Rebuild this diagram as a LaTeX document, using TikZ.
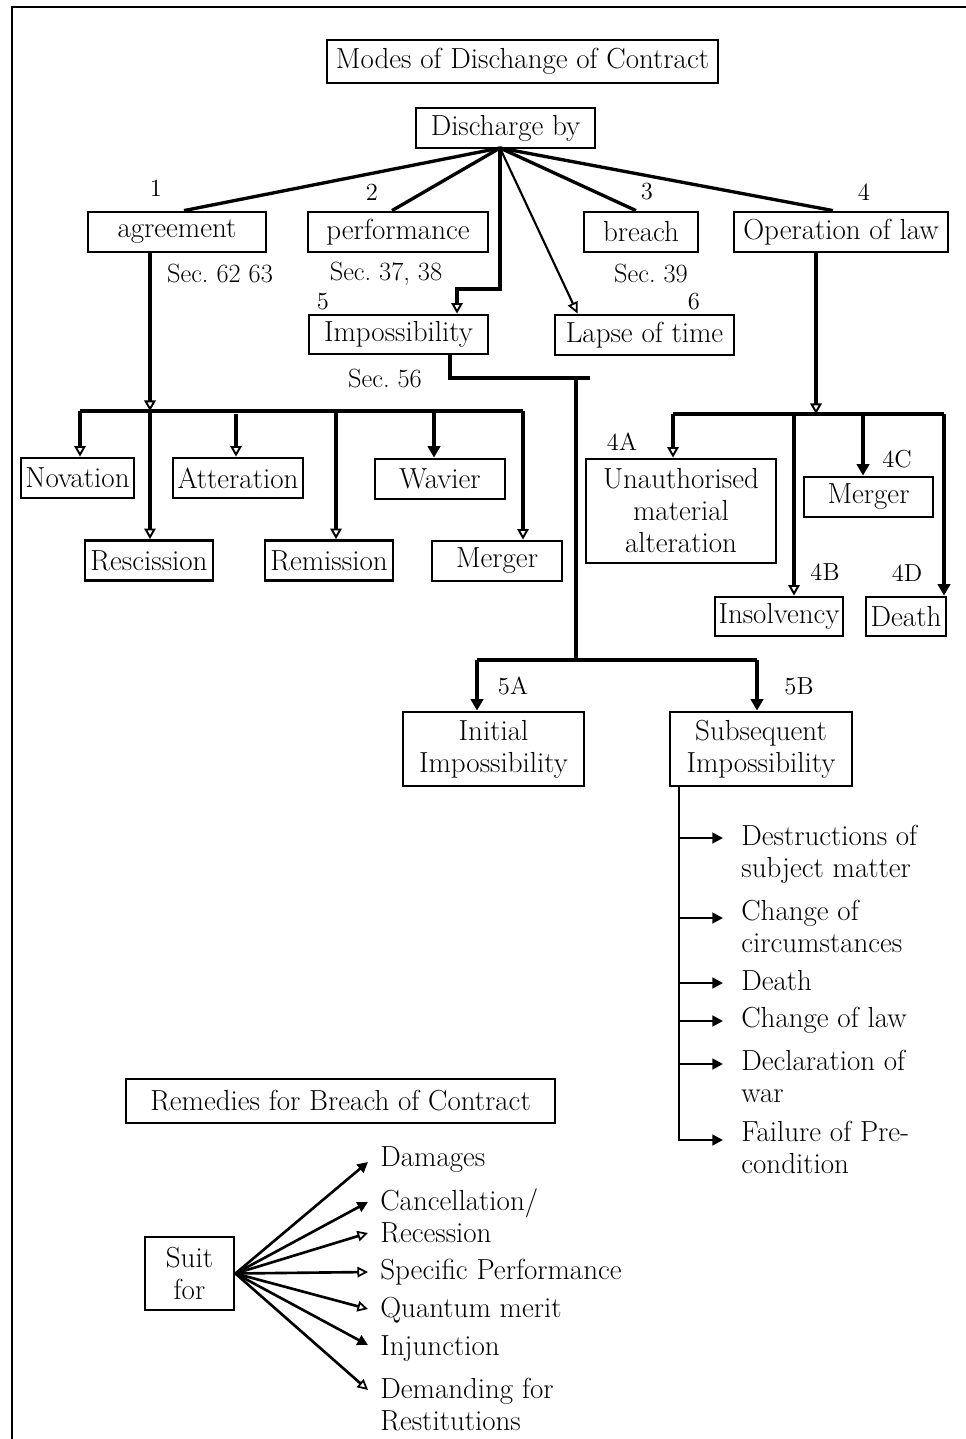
\documentclass[tikz,border=0pt]{standalone}
\usetikzlibrary{arrows.meta,calc}
\frenchspacing
\begin{document}
\begin{tikzpicture}[x=0.02cm,y=-0.02cm,
  every node/.style={font=\fontsize{16.5}{18.2}\selectfont, inner sep=0pt},
  box/.style={draw, line width=1.6pt, align=center},
  bw/.style={minimum width=#1*0.02cm},
  bh/.style={minimum height=#1*0.02cm},
  sec/.style={font=\fontsize{15}{17}\selectfont},
  num/.style={font=\fontsize{14}{16}\selectfont},
  item/.style={anchor=west, align=left},
  wire/.style={line width=1.9pt},
  oarr/.style={wire, -{Triangle[open, length=6pt, width=6.5pt, line width=1.1pt]}},
  farr/.style={wire, -{Triangle[length=6.5pt, width=7pt]}},
  thin oarr/.style={line width=1.2pt, -{Triangle[open, length=6.5pt, width=6pt, line width=1pt]}},
  thin farr/.style={line width=1.5pt, -{Triangle[length=6pt, width=6pt]}},
  thin oarr2/.style={line width=1.5pt, -{Triangle[open, length=6pt, width=6pt, line width=1pt]}},
]
\useasboundingbox (0,0) rectangle (966,1439);
% open page frame
\draw[line width=1.2pt] (966,7) -- (12,7) -- (12,1439);

% ---------- Modes of discharge ----------
\node[box, bw=391, bh=43] (title) at (522.5,61.5) {Modes of Dischange of Contract};
\node[box, bw=179, bh=40] (dis) at (505.5,128) {Discharge by};

\node[box, bw=178, bh=40] (agr) at (177,232) {agreement};
\node[box, bw=180, bh=40] (perf) at (398,232) {performance};
\node[box, bw=114, bh=40] (brc) at (641,232) {breach};
\node[box, bw=214, bh=40] (opl) at (841,232) {Operation of law};
\node[box, bw=179, bh=39] (imp) at (398.5,334.5) {Impossibility};
\node[box, bw=179, bh=40] (lapse) at (644.5,335) {Lapse of time};

\node[num] (n1) at (156,188) {1};
\node[num] (n2) at (372,192) {2};
\node[num] (n3) at (647,192) {3};
\node[num] (n4) at (864,192) {4};
\node[num] (n5) at (323,302) {5};
\node[num] (n6) at (694,302) {6};

\node[sec] (s1) at (220,274) {Sec. 62 63};
\node[sec] (s2) at (386,274) {Sec. 37, 38};
\node[sec] (s3) at (651,274) {Sec. 39};
\node[sec] (s5) at (385,378) {Sec. 56};

\coordinate (apex) at (500,148);
\draw[wire] (apex) -- ($(agr.north)+(7,0)$);
\draw[wire] (apex) -- ($(perf.north)+(-6,0)$);
\draw[wire] (apex) -- ($(brc.north)+(-5,0)$);
\draw[wire] (apex) -- ($(opl.north)+(-8,0)$);
\coordinate (elb) at (457,289);
\draw[oarr] (apex) |- (elb) -- (elb |- imp.north);
\draw[thin oarr] (apex) -- ($(lapse.north west)+(24,0)$);

% ---------- by agreement ----------
\node[box, bw=113, bh=40] (nov) at (77.5,478) {Novation};
\node[box, bw=130, bh=40] (att) at (238,478) {Atteration};
\node[box, bw=130, bh=40] (wav) at (440,479) {Wavier};
\node[box, bw=128, bh=40] (res) at (149,560.5) {Rescission};
\node[box, bw=128, bh=40] (rem) at (329,560.5) {Remission};
\node[box, bw=130, bh=40] (mrg) at (497,561) {Merger};

\coordinate (busA) at (150,411);
\coordinate (busL) at (80,411);
\coordinate (busR) at (523,411);
\draw[oarr] (busA |- agr.south) -- (busA);
\draw[wire] (busL) -- (busR);
\draw[oarr] (busL) -- (busL |- nov.north);
\draw[oarr] (busA) -- (busA |- res.north);
\coordinate (dAtt) at (236,414);
\draw[oarr] (dAtt) -- (dAtt |- att.north);
\coordinate (dRem) at (336,413);
\draw[oarr] (dRem) -- (dRem |- rem.north);
\coordinate (dWav) at (434,411);
\draw[farr] (dWav) -- (dWav |- wav.north);
\draw[oarr] (busR) -- (busR |- mrg.north);

% ---------- by operation of law ----------
\node[box, bw=190, bh=104] (una) at (681,511) {Unauthorised\\material\\alteration};
\node[box, bw=129, bh=40] (mrg4) at (868.5,497) {Merger};
\node[box, bw=128, bh=39] (ins) at (779,616.5) {Insolvency};
\node[box, bw=80, bh=39] (dth) at (906,616.5) {Death};
\node[num] (n4a) at (622,442) {4A};
\node[num] (n4b) at (825,572) {4B};
\node[num] (n4c) at (897,459) {4C};
\node[num] (n4d) at (907,573) {4D};

\coordinate (busO) at (816,414);
\coordinate (busOL) at (673,414);
\coordinate (busOR) at (944,414);
\draw[oarr] (busO |- opl.south) -- (busO);
\draw[wire] (busOL) -- (busOR);
\draw[oarr] (busOL) -- (busOL |- una.north);
\coordinate (dIns) at (794,414);
\draw[oarr] (dIns) -- (dIns |- ins.north);
\coordinate (dMrg) at (863,414);
\draw[farr] (dMrg) -- (dMrg |- mrg4.north);
\draw[farr] (busOR) -- (busOR |- dth.north);

% ---------- impossibility ----------
\node[box, bw=181, bh=74] (ini) at (493.5,749) {Initial\\Impossibility};
\node[box, bw=182, bh=74] (sub) at (761,749) {Subsequent\\Impossibility};
\node[num] (n5a) at (513,686) {5A};
\node[num] (n5b) at (799,686) {5B};

\coordinate (ib) at (450,378);
\coordinate (ibr) at (590,378);
\coordinate (jt) at (576,378);
\coordinate (jb) at (576,660);
\coordinate (ja) at (477,660);
\coordinate (jbb) at (757,660);
\draw[wire] (ib |- imp.south) -- (ib) -- (ibr);
\draw[wire] (jt) -- (jb);
\draw[wire] (ja) -- (jbb);
\draw[farr] (ja) -- (ja |- ini.north);
\draw[farr] (jbb) -- (jbb |- sub.north);

% causes of subsequent impossibility
\coordinate (tr) at (679,786);
\coordinate (b1) at (723,838);
\coordinate (b2) at (723,918);
\coordinate (b3) at (723,983);
\coordinate (b4) at (723,1021);
\coordinate (b5) at (723,1064);
\coordinate (b6) at (723,1140);
\draw[thin farr] (tr) |- (b6);
\foreach \b in {b1,b2,b3,b4,b5}
  \draw[thin farr] (tr |- \b) -- (\b);

\node[item] (c1) at (741,854) {Destructions of\\subject matter};
\node[item] (c2) at (741,926) {Change of\\circumstances};
\node[item] (c3) at (741,981) {Death};
\node[item] (c4) at (741,1020) {Change of law};
\node[item] (c5) at (741,1076.5) {Declaration of\\war};
\node[item] (c6) at (741,1147) {Failure of Pre-\\condition};

% ---------- remedies ----------
\node[box, bw=429, bh=44] (remd) at (340.5,1101) {Remedies for Breach of Contract};
\node[box, bw=89, bh=73] (suit) at (189.5,1273.5) {Suit\\for};

\node[item] (r1) at (380,1160) {Damages};
\node[item] (r2) at (380,1215.5) {Cancellation/\\Recession};
\node[item] (r3) at (380,1272) {Specific Performance};
\node[item] (r4) at (380,1310) {Quantum merit};
\node[item] (r5) at (380,1349) {Injunction};
\node[item] (r6) at (380,1404.5) {Demanding for\\Restitutions};

\coordinate (t1) at (368,1162);
\coordinate (t2) at (368,1202);
\coordinate (t3) at (368,1233);
\coordinate (t4) at (368,1272);
\coordinate (t5) at (368,1309);
\coordinate (t6) at (368,1345);
\coordinate (t7) at (368,1390);
\draw[thin farr] (suit.east) -- (t1);
\draw[thin farr] (suit.east) -- (t2);
\draw[thin oarr2] (suit.east) -- (t3);
\draw[thin oarr2] (suit.east) -- (t4);
\draw[thin oarr2] (suit.east) -- (t5);
\draw[thin farr] (suit.east) -- (t6);
\draw[thin oarr2] (suit.east) -- (t7);
\end{tikzpicture}
\end{document}
